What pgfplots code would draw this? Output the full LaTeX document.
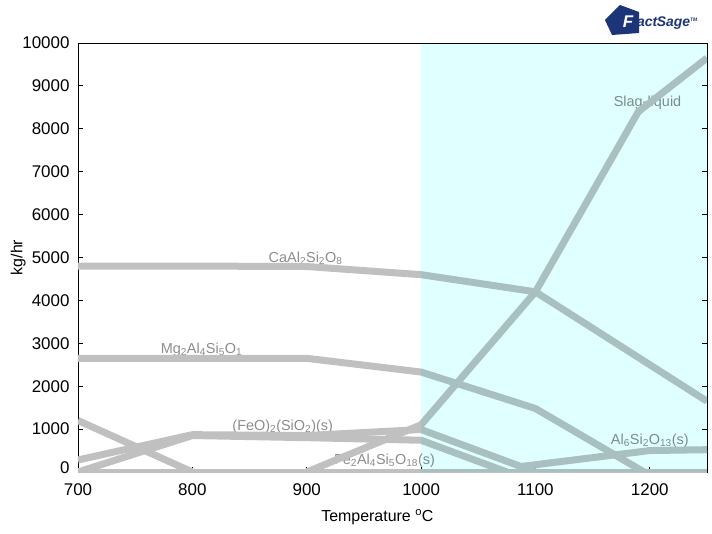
\documentclass[border=0pt]{standalone}
\usepackage{fontspec}
\setmainfont{Liberation Sans}
\usepackage{pgfplots}
\pgfplotsset{compat=1.18}
\definecolor{lc}{RGB}{192,192,192}
\definecolor{bgc}{RGB}{224,255,255}
\definecolor{txt}{RGB}{140,140,140}
\definecolor{fsblue}{RGB}{28,52,120}
\begin{document}
\begin{tikzpicture}
\begin{axis}[
  scale only axis, width=629bp, height=429bp,
  xmin=700, xmax=1250, ymin=0, ymax=10000,
  xtick={700,800,...,1200}, ytick={0,1000,...,10000},
  yticklabels={\raisebox{-1bp}[0pt][0pt]{0},1000,2000,3000,4000,5000,6000,7000,8000,9000,10000},
  scaled y ticks=false,
  xtick pos=bottom, ytick pos=both,
  tick align=inside, major tick length=5bp,
  axis line style={line width=0.8bp},
  tick style={line width=0.8bp, black},
  /pgf/number format/assume math mode=true,
  /pgf/number format/set thousands separator={},
  ticklabel style={font=\fontsize{17}{17}\selectfont},
  xticklabel style={yshift=-8bp},
  yticklabel style={xshift=-5bp},
  xlabel={Temperature \textsuperscript{o}C},
  ylabel={kg/hr},
  label style={font=\fontsize{16}{16}\selectfont},
  xlabel style={at={(axis description cs:0.476,0)},anchor=center,yshift=-45bp},
  ylabel style={at={(axis description cs:-0.095,0.5)},anchor=center},
  every axis plot post/.append style={lc, solid, line width=7bp, line join=round, mark=none},
  clip=true,
]
\coordinate (SW) at (rel axis cs:0,0);
\coordinate (NE) at (rel axis cs:1,1);
% labels
\node[txt, font=\fontsize{14.5}{14.5}\selectfont] at (axis cs:899,4990) {CaAl\textsubscript{2}Si\textsubscript{2}O\textsubscript{8}};
\node[txt, font=\fontsize{14.5}{14.5}\selectfont] at (axis cs:808,2860) {Mg\textsubscript{2}Al\textsubscript{4}Si\textsubscript{5}O\textsubscript{1}};
\node[txt, font=\fontsize{14.5}{14.5}\selectfont] at (axis cs:879,1060) {(FeO)\textsubscript{2}(SiO\textsubscript{2})(s)};
\node[txt, font=\fontsize{14.5}{14.5}\selectfont] at (axis cs:968,270) {Fe\textsubscript{2}Al\textsubscript{4}Si\textsubscript{5}O\textsubscript{18}(s)};
\node[txt, font=\fontsize{14.5}{14.5}\selectfont] at (axis cs:1200,730) {Al\textsubscript{6}Si\textsubscript{2}O\textsubscript{13}(s)};
\node[txt, font=\fontsize{14.5}{14.5}\selectfont] at (axis cs:1198,8600) {Slag-liquid};
% series
\addplot coordinates {(700,0) (1250,0)};
\addplot coordinates {(700,4800) (800,4800) (900,4790) (1000,4600) (1100,4200) (1250,1650)};
\addplot coordinates {(700,2650) (800,2650) (900,2650) (1000,2330) (1100,1480) (1195,0)};
\addplot coordinates {(900,0) (1000,1100) (1100,4200) (1190,8400) (1250,9650)};
\addplot coordinates {(700,1200) (800,0)};
\addplot coordinates {(700,280) (800,870) (900,850) (1000,990) (1080,200) (1100,0)};
\addplot coordinates {(700,0) (800,850) (900,800) (1000,740) (1075,0)};
\addplot coordinates {(1085,120) (1200,500) (1250,520)};
% liquid region
\fill[bgc, blend mode=multiply] (axis cs:1000,0) rectangle (axis cs:1250,10000);
\end{axis}
\fill[fsblue] ([xshift=-102bp,yshift=23bp]NE) -- ([xshift=-87bp,yshift=38bp]NE) -- ([xshift=-68bp,yshift=31bp]NE) -- ([xshift=-68bp,yshift=10bp]NE) -- ([xshift=-95bp,yshift=8bp]NE) -- cycle;
\node[anchor=center, inner sep=0pt, font=\bfseries\itshape\fontsize{17}{17}\selectfont, white] at ([xshift=-79bp,yshift=21bp]NE) {F};
\node[anchor=west, inner sep=0pt, font=\bfseries\itshape\fontsize{14}{14}\selectfont, fsblue] at ([xshift=-70bp,yshift=20bp]NE) {act\kern-0.5pt Sage\textsuperscript{\fontsize{5}{5}\selectfont TM}};
\path[use as bounding box] ([xshift=-78bp,yshift=-62bp]SW) rectangle ([xshift=5bp,yshift=43bp]NE);
\end{tikzpicture}
\end{document}
